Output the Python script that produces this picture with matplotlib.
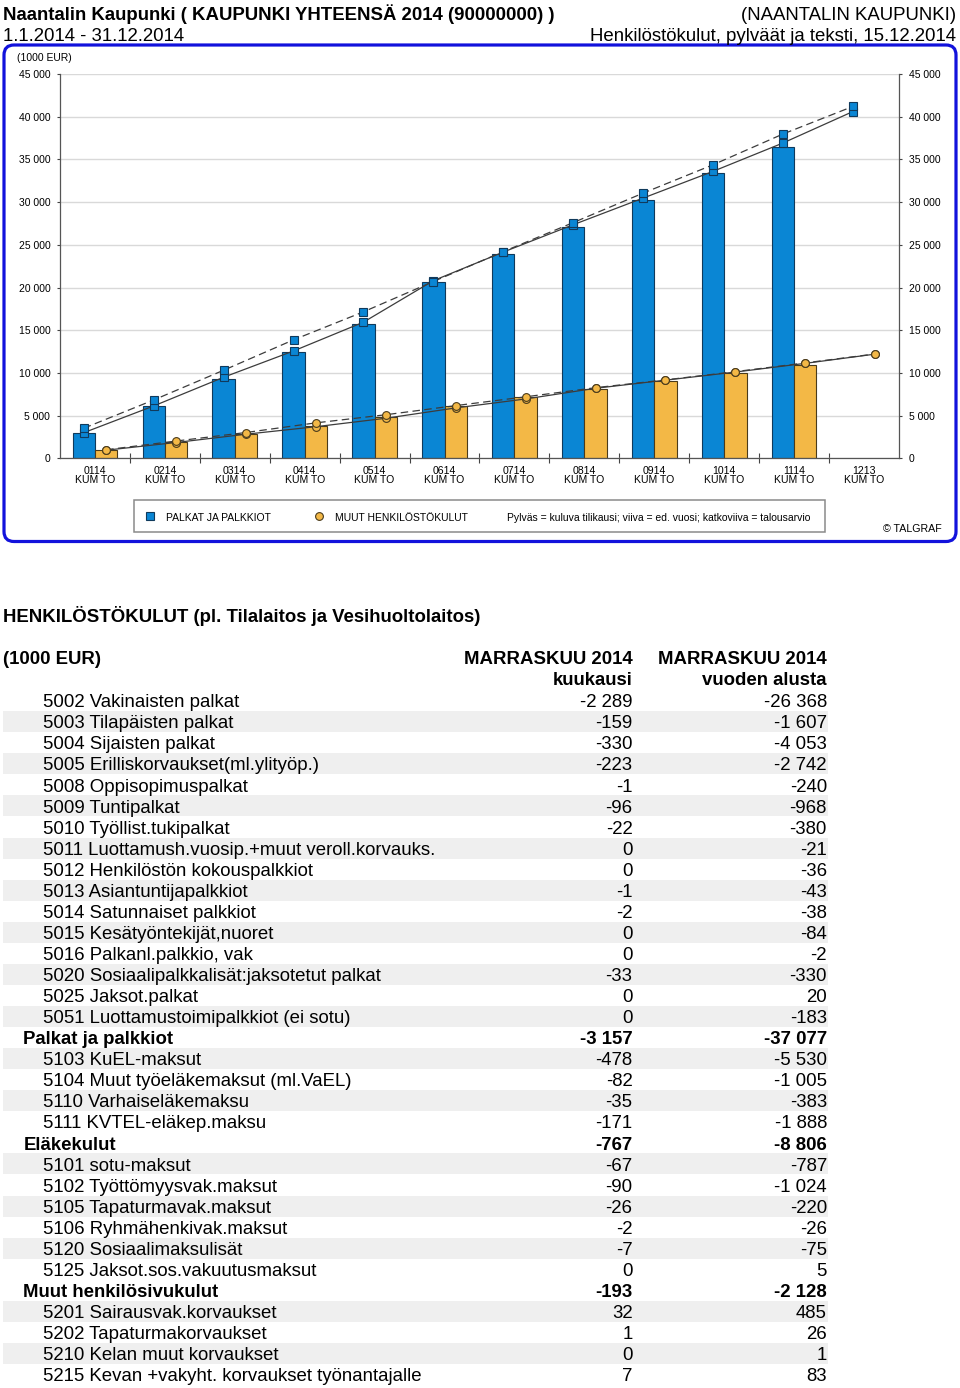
import matplotlib
matplotlib.use("Agg")
import matplotlib.pyplot as plt
import numpy as np
from matplotlib.patches import Rectangle, FancyBboxPatch
from matplotlib.ticker import FixedLocator, FuncFormatter

plt.rcParams['font.family'] = ['Liberation Sans', 'DejaVu Sans']

# ---------------- data ----------------
months = ["0114", "0214", "0314", "0414", "0514", "0614",
          "0714", "0814", "0914", "1014", "1114", "1213"]
month_sub = "KUM TO"

palkat_current = [2950, 6130, 9290, 12490, 15700, 20660, 23900, 27050, 30270, 33400, 36460]
muut_current = [940, 1870, 2850, 3820, 4840, 6170, 7150, 8120, 9100, 10030, 10970]

palkat_prev = [3000, 6130, 9490, 12570, 15940, 20800, 24150, 27350, 30470, 33600, 36920, 40600]
palkat_budget = [3520, 6830, 10310, 13870, 17150, 20700, 24200, 27600, 31050, 34370, 37970, 41200]
muut_prev = [950, 1850, 2820, 3700, 4690, 5900, 6950, 8200, 9150, 10100, 11120, 12200]
muut_budget = [1000, 2020, 3020, 4150, 5100, 6170, 7200, 8270, 9180, 10150, 11170, 12220]

y_ticks = [0, 5000, 10000, 15000, 20000, 25000, 30000, 35000, 40000, 45000]

row_labels = [
    "5002 Vakinaisten palkat", "5003 Tilapäisten palkat", "5004 Sijaisten palkat",
    "5005 Erilliskorvaukset(ml.ylityöp.)", "5008 Oppisopimuspalkat", "5009 Tuntipalkat",
    "5010 Työllist.tukipalkat", "5011 Luottamush.vuosip.+muut veroll.korvauks.",
    "5012 Henkilöstön kokouspalkkiot", "5013 Asiantuntijapalkkiot", "5014 Satunnaiset palkkiot",
    "5015 Kesätyöntekijät,nuoret", "5016 Palkanl.palkkio, vak",
    "5020 Sosiaalipalkkalisät:jaksotetut palkat", "5025 Jaksot.palkat",
    "5051 Luottamustoimipalkkiot (ei sotu)", "Palkat ja palkkiot",
    "5103 KuEL-maksut", "5104 Muut työeläkemaksut (ml.VaEL)", "5110 Varhaiseläkemaksu",
    "5111 KVTEL-eläkep.maksu", "Eläkekulut",
    "5101 sotu-maksut", "5102 Työttömyysvak.maksut", "5105 Tapaturmavak.maksut",
    "5106 Ryhmähenkivak.maksut", "5120 Sosiaalimaksulisät", "5125 Jaksot.sos.vakuutusmaksut",
    "Muut henkilösivukulut",
    "5201 Sairausvak.korvaukset", "5202 Tapaturmakorvaukset", "5210 Kelan muut korvaukset",
    "5215 Kevan +vakyht. korvaukset työnantajalle",
]
month_vals = [-2289, -159, -330, -223, -1, -96, -22, 0, 0, -1, -2, 0, 0, -33, 0, 0, -3157,
              -478, -82, -35, -171, -767, -67, -90, -26, -2, -7, 0, -193, 32, 1, 0, 7]
ytd_vals = [-26368, -1607, -4053, -2742, -240, -968, -380, -21, -36, -43, -38, -84, -2, -330,
            20, -183, -37077, -5530, -1005, -383, -1888, -8806, -787, -1024, -220, -26, -75,
            5, -2128, 485, 26, 1, 83]
row_bold = [False] * 16 + [True] + [False] * 4 + [True] + [False] * 6 + [True] + [False] * 4

# ---------------- style ----------------
BLUE = '#0a86d4'
BLUE_EDGE = '#103a5c'
ORANGE = '#f3b846'
ORANGE_EDGE = '#4a3b1c'
LINE = '#3c3c3c'
FRAME = '#1212dc'
TXT = 13.4
SMALL = 7.45

def fmt(v):
    return f"{v:,}".replace(",", " ")

W, H = 960, 1388
fig = plt.figure(figsize=(W / 100, H / 100), dpi=100)
bg = fig.add_axes([0, 0, 1, 1], zorder=0)
bg.set_xlim(0, W)
bg.set_ylim(H, 0)
bg.axis('off')

def px_axes(l, t, r, b):
    return [l / W, 1 - b / H, (r - l) / W, (b - t) / H]

# headers
bg.text(3, 20, "Naantalin Kaupunki ( KAUPUNKI YHTEENSÄ 2014 (90000000) )",
        fontsize=TXT, fontweight='bold', va='baseline')
bg.text(3, 40.5, "1.1.2014 - 31.12.2014", fontsize=TXT, va='baseline')
bg.text(956, 20, "(NAANTALIN KAUPUNKI)", fontsize=TXT, va='baseline', ha='right')
bg.text(956, 40.5, "Henkilöstökulut, pylväät ja teksti, 15.12.2014", fontsize=TXT,
        va='baseline', ha='right')

# blue rounded frame
frame = FancyBboxPatch((4, 45), 952, 496.5, boxstyle="round,pad=0,rounding_size=10",
                       fc='white', ec=FRAME, lw=2.3, zorder=1)
bg.add_patch(frame)

bg.text(17, 60.7, "(1000 EUR)", fontsize=7.5, va='baseline', zorder=3)

# ---------------- chart ----------------
ax = fig.add_axes(px_axes(60, 74, 899, 458.3), zorder=2)
ax.patch.set_visible(False)
x = np.arange(len(months))
off, bw = 0.16, 0.32
nc = len(palkat_current)
ax.bar(x[:nc] - off, palkat_current, bw, color=BLUE, edgecolor=BLUE_EDGE, lw=0.8, zorder=2)
ax.bar(x[:nc] + off, muut_current, bw, color=ORANGE, edgecolor=ORANGE_EDGE, lw=0.8, zorder=2)

mk_sq = dict(marker='s', ms=5.3, mfc=BLUE, mec=BLUE_EDGE, mew=0.8)
mk_ci = dict(marker='o', ms=5.6, mfc=ORANGE, mec=ORANGE_EDGE, mew=0.8)
ax.plot(x - off, palkat_prev, color=LINE, lw=0.9, zorder=3, **mk_sq)
ax.plot(x - off, palkat_budget, color=LINE, lw=0.9, ls=(0, (6, 3.5)), zorder=3, **mk_sq)
ax.plot(x + off, muut_prev, color=LINE, lw=0.9, zorder=3, **mk_ci)
ax.plot(x + off, muut_budget, color=LINE, lw=0.9, ls=(0, (6, 3.5)), zorder=3, **mk_ci)

ax.set_xlim(-0.5, len(months) - 0.5)
ax.set_ylim(0, 45000)
ax.yaxis.set_major_locator(FixedLocator(y_ticks))
ax.yaxis.set_major_formatter(FuncFormatter(lambda v, p: fmt(int(v))))
ax.yaxis.grid(True, color='#d9d9d9', lw=1)
ax.set_axisbelow(True)
ax.tick_params(axis='y', which='major', left=True, right=True, labelleft=True,
               labelright=True, direction='out', length=2.4, width=0.8, color='#444444',
               labelsize=7.5, pad=4.6)

ax.xaxis.set_major_locator(FixedLocator(np.arange(0.5, len(months) - 1, 1.0)))
ax.xaxis.set_major_formatter(FuncFormatter(lambda v, p: ""))
ax.xaxis.set_minor_locator(FixedLocator(x))
ax.set_xticklabels([f"{m}\n{month_sub}" for m in months], minor=True)
ax.tick_params(axis='x', which='major', direction='inout', length=7, width=0.8, color='#444444')
ax.tick_params(axis='x', which='minor', length=0, labelsize=7.6, pad=5.2)
for lbl in ax.get_xticklabels(minor=True):
    lbl.set_linespacing(0.97)

ax.spines['top'].set_visible(False)
for s in ['left', 'right', 'bottom']:
    ax.spines[s].set_color('#555555')
    ax.spines[s].set_linewidth(0.9)

# legend box
bg.add_patch(Rectangle((134, 500), 691, 31.5, fc='white', ec='#8a8a8a', lw=1.1, zorder=3))
bg.plot([150], [516], linestyle='none', zorder=4, **mk_sq)
bg.plot([319], [516], linestyle='none', zorder=4, **mk_ci)
bg.text(165.5, 521, "PALKAT JA PALKKIOT", fontsize=SMALL, va='baseline', zorder=4)
bg.text(335, 521, "MUUT HENKILÖSTÖKULUT", fontsize=SMALL, va='baseline', zorder=4)
bg.text(507, 521, "Pylväs = kuluva tilikausi; viiva = ed. vuosi; katkoviiva = talousarvio",
        fontsize=SMALL, va='baseline', zorder=4)
bg.text(941.5, 531.5, "© TALGRAF", fontsize=7.7, va='baseline', ha='right', zorder=4)

# ---------------- table ----------------
bg.text(3, 621.7, "HENKILÖSTÖKULUT (pl. Tilalaitos ja Vesihuoltolaitos)",
        fontsize=TXT, fontweight='bold', va='baseline')
col1, col2 = 632.5, 827
bg.text(3, 664, "(1000 EUR)", fontsize=TXT, fontweight='bold', va='baseline')
bg.text(col1, 663.5, "MARRASKUU 2014", fontsize=TXT, fontweight='bold', va='baseline', ha='right')
bg.text(col1, 685, "kuukausi", fontsize=TXT, fontweight='bold', va='baseline', ha='right')
bg.text(col2, 663.5, "MARRASKUU 2014", fontsize=TXT, fontweight='bold', va='baseline', ha='right')
bg.text(col2, 685, "vuoden alusta", fontsize=TXT, fontweight='bold', va='baseline', ha='right')

base0, step = 707.3, 21.06
shade_next = False
for i, (lab, mv, yv, b) in enumerate(zip(row_labels, month_vals, ytd_vals, row_bold)):
    yb = base0 + i * step
    if b:
        shade_next = True
    else:
        if shade_next:
            bg.add_patch(Rectangle((3, yb - 17.2), 825, step, fc='#efefef', ec='none', zorder=1))
        shade_next = not shade_next
    w = 'bold' if b else 'normal'
    bg.text(23.3 if b else 43.3, yb, lab, fontsize=TXT, fontweight=w, va='baseline', zorder=2)
    bg.text(col1, yb, fmt(mv), fontsize=TXT, fontweight=w, va='baseline', ha='right', zorder=2)
    bg.text(col2, yb, fmt(yv), fontsize=TXT, fontweight=w, va='baseline', ha='right', zorder=2)

fig.savefig("out.png", dpi=100)
